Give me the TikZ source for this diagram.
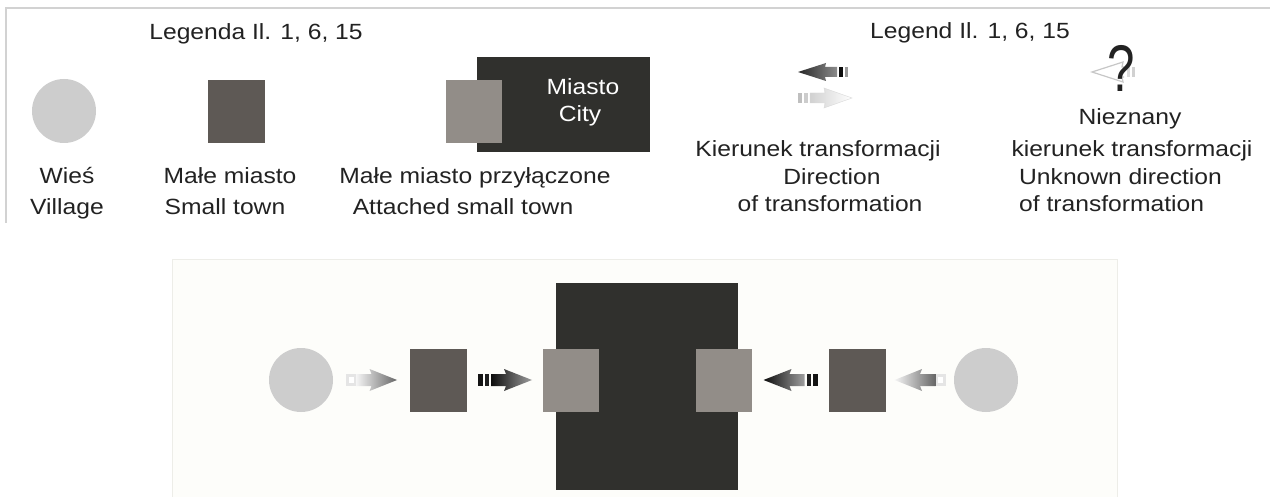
\documentclass[tikz,border=0pt]{standalone}
\usepackage{fontspec}
\setmainfont{Liberation Sans}[FakeStretch=1.12]
\usetikzlibrary{calc}
\definecolor{vill}{HTML}{CDCDCD}
\definecolor{stown}{HTML}{5E5955}
\definecolor{atown}{HTML}{928D88}
\definecolor{city}{HTML}{30302D}
\definecolor{framec}{HTML}{D2D2D2}
\definecolor{panel}{HTML}{FDFDFA}
\definecolor{panelb}{HTML}{EDEDE8}
\definecolor{ink}{HTML}{222222}
\newcommand\ArrowVill{%
  \fill[black!10] (-25.5,-6) rectangle (-15.5,6);
  \fill[white] (-23,-3) rectangle (-18,3);
  \shade[left color=black!4, right color=black!60]
    (-15.5,-6) -- (0,-6) -- (-2,-11) -- (25.5,0) -- (-2,11) -- (0,6) -- (-15.5,6) -- cycle;
}
\newcommand\ArrowTown{%
  \fill[black!92] (-27,-6) rectangle (-22,6);
  \fill[black!88] (-20,-6) rectangle (-16,6);
  \shade[left color=black!95, right color=black!38]
    (-14,-6) -- (1,-6) -- (-1,-11) -- (27,0) -- (-1,11) -- (1,6) -- (-14,6) -- cycle;
}
\newcommand\LegDark{%
  \fill[black!40] (-25,-5) rectangle (-22,5);
  \fill[black!95] (-20,-5) rectangle (-16,5);
  \shade[left color=black!85, right color=black!45]
    (-14,-5) -- (-2,-5) -- (-3,-9) -- (25,0) -- (-3,9) -- (-2,5) -- (-14,5) -- cycle;
}
\newcommand\LegLight{%
  \fill[black!25] (-27,-5) rectangle (-23,5);
  \fill[black!20] (-21,-5) rectangle (-17,5);
  \shade[left color=black!18, right color=white, draw=black!15]
    (-15,-5) -- (0,-5) -- (-1,-10) -- (27,0) -- (-1,10) -- (0,5) -- (-15,5) -- cycle;
}
\begin{document}
\begin{tikzpicture}[x=1pt,y=-1pt,
  txt/.style={font=\fontsize{22}{26}\selectfont, inner sep=0pt, text=ink, anchor=base},
  village/.style={circle, fill=vill, minimum size=64pt, inner sep=0pt},
  stownbox/.style={rectangle, fill=stown, minimum width=57pt, minimum height=63pt, inner sep=0pt},
  atownbox/.style={rectangle, fill=atown, minimum width=56pt, minimum height=63pt, inner sep=0pt},
  citybox/.style={rectangle, fill=city, inner sep=0pt},
]
\useasboundingbox (0,0) rectangle (1270,497);
\fill[white] (0,0) rectangle (1270,497);

% legend frame
\draw[framec, line width=2pt] (6,223) -- (6,8) -- (1270,8);

% legend titles
\node[txt] (t1) at (256,40) {Legenda Il. 1, 6, 15};
\node[txt] (t2) at (970,39) {Legend Il. 1, 6, 15};

% legend symbols
\node[village] (lv) at (64,111) {};
\node[stownbox] (ls) at (236,112) {};
\node[citybox, minimum width=173pt, minimum height=95pt] (lc) at (563.5,104.5) {};
\node[atownbox] (la) at (473.5,112) {};
\node[txt, text=white] (lm) at (583,95) {Miasto};
\node[txt, text=white] (lcity) at (580,122) {City};

% legend labels
\node[txt] (w1) at (67,184) {Wieś};
\node[txt] (w2) at (67,215) {Village};
\node[txt] (m1) at (230,184) {Małe miasto};
\node[txt] (m2) at (225,215) {Small town};
\node[txt] (p1) at (475,184) {Małe miasto przyłączone};
\node[txt] (p2) at (463,215) {Attached small town};

% legend arrows
\begin{scope}[shift={(823,72)}, xscale=-1]
  \LegDark
\end{scope}
\begin{scope}[shift={(825,98)}]
  \LegLight
\end{scope}
\node[txt] (k1) at (818,157) {Kierunek transformacji};
\node[txt] (k2) at (832,185) {Direction};
\node[txt] (k3) at (830,212) {of transformation};

% unknown direction
\begin{scope}[shift={(1114,72)}, xscale=-1]
  \fill[black!18] (-21,-5) rectangle (-18,5);
  \fill[black!14] (-16,-5) rectangle (-13,5);
  \draw[black!22, line width=1.2pt] (-10,-5) -- (-8,-5) -- (-9,-10) -- (22,0) -- (-9,10) -- (-8,5) -- (-10,5);
\end{scope}
\node[inner sep=0pt, text=ink, font=\fontsize{44}{44}\selectfont] (q) at (1121,68) {\scalebox{1}[1.5]{?}};
\node[txt] (n1) at (1130,125) {Nieznany};
\node[txt] (n2) at (1132,157) {kierunek transformacji};
\node[txt, anchor=base west] (n3) at (1019,185) {Unknown direction};
\node[txt, anchor=base west] (n4) at (1019,212) {of transformation};

% lower panel
\filldraw[fill=panel, draw=panelb, line width=1pt] (172,260) rectangle (1117,520);

\node[village] (v1) at (301,380) {};
\node[stownbox] (s1) at (438.5,380) {};
\node[citybox, minimum width=182pt, minimum height=207pt] (c) at (647,386.5) {};
\node[atownbox] (a1) at (571,380) {};
\node[atownbox] (a2) at (724,380) {};
\node[stownbox] (s2) at (857.5,380) {};
\node[village] (v2) at (986,380) {};

\begin{scope}[shift={($(v1.east)!.5!(s1.west)$)}]
  \ArrowVill
\end{scope}
\begin{scope}[shift={($(s1.east)!.5!(a1.west)$)}]
  \ArrowTown
\end{scope}
\begin{scope}[shift={($(a2.east)!.5!(s2.west)$)}, xscale=-1]
  \ArrowTown
\end{scope}
\begin{scope}[shift={($(s2.east)!.5!(v2.west)$)}, xscale=-1]
  \ArrowVill
\end{scope}
\end{tikzpicture}
\end{document}
